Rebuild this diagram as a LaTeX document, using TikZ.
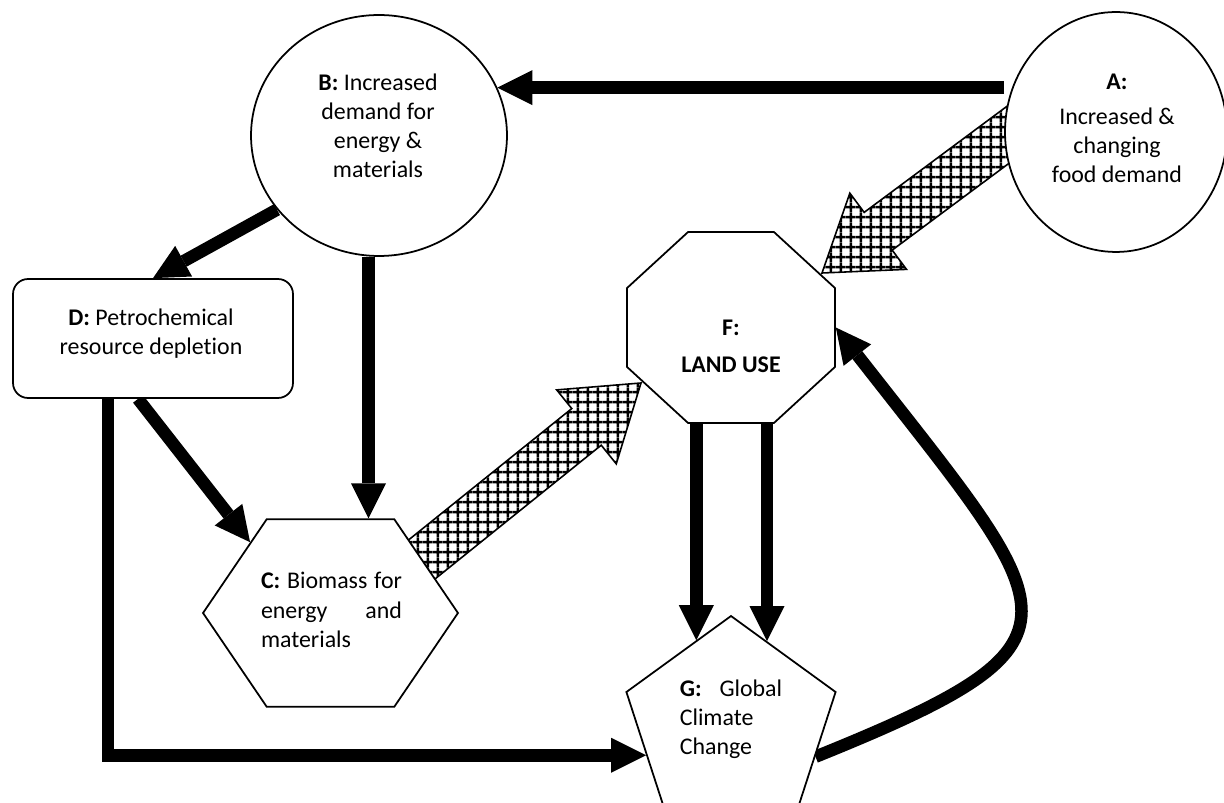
\documentclass[tikz,border=0pt]{standalone}
\usepackage{fontspec}
\setmainfont{Carlito}[Ligatures={NoCommon}]
\usetikzlibrary{shapes.geometric,arrows.meta,calc,patterns,backgrounds}

\pgfdeclarepatternformonly{mygrid}{\pgfqpoint{0pt}{0pt}}{\pgfqpoint{5.6pt}{5.6pt}}{\pgfqpoint{5.6pt}{5.6pt}}{%
  \pgfsetlinewidth{1.4pt}%
  \pgfpathmoveto{\pgfqpoint{0pt}{2.8pt}}\pgfpathlineto{\pgfqpoint{5.6pt}{2.8pt}}%
  \pgfpathmoveto{\pgfqpoint{2.8pt}{0pt}}\pgfpathlineto{\pgfqpoint{2.8pt}{5.6pt}}%
  \pgfusepath{stroke}}

% wide hatched arrow from #1 to #2
\newcommand{\fatarrow}[2]{%
  \path ($(#2)!1.4cm!(#1)$) coordinate (hb);
  \draw[myfat] ($(#1)!0.47cm!90:(#2)$) -- ($(hb)!0.47cm!-90:(#1)$) -- ($(hb)!0.95cm!-90:(#1)$)
    -- (#2) -- ($(hb)!0.95cm!90:(#1)$) -- ($(hb)!0.47cm!90:(#1)$) -- ($(#1)!0.47cm!-90:(#2)$) -- cycle;}

\begin{document}
\begin{tikzpicture}[x=0.02cm, y=-0.02cm, font=\fontsize{13.6}{16.6}\selectfont]
    \tikzset{myell/.style={ellipse, draw, fill=white, line width=1pt, inner sep=0pt},
        mybox/.style={rectangle, rounded corners=0.3cm, draw, fill=white, line width=1pt,
            minimum width=5.6cm, minimum height=2.38cm},
        mypoly/.style={regular polygon, draw, fill=white, line width=1pt, inner sep=0pt},
        mytxt/.style={align=center, inner sep=0pt},
        myarr/.style={line width=0.25cm, -{Triangle[length=0.7cm, width=0.7cm, line width=0pt]}},
        myfat/.style={line width=0.9pt, pattern=mygrid, line join=miter}}
    \useasboundingbox (0,0) rectangle (1224,803);

    \node[myell, minimum width=4.44cm, minimum height=4.8cm] (A) at (1116,132) {};
    \node[myell, minimum width=5.12cm, minimum height=4.82cm] (B) at (379,135.5) {};
    \node[mybox] (D) at (153,338.5) {};
    \node[mypoly, regular polygon sides=8, minimum size=4.5cm, yscale=0.918] (F) at (731,327.5) {};
    \node[mypoly, regular polygon sides=6, minimum size=5.1cm, yscale=0.85] (C) at (330.5,613) {};
    \node[mypoly, regular polygon sides=5, minimum size=4.4cm] (G) at (731,726) {};

    \node[mytxt] (Atxt) at (1117,128.5) {\textbf{A:}\\[3pt]Increased \&\\changing\\food demand};
    \node[mytxt] (Btxt) at (378,126) {\textbf{B:} Increased\\demand for\\energy \&\\materials};
    \node[mytxt] (Dtxt) at (151,334) {\textbf{D:} Petrochemical\\resource depletion};
    \node[mytxt] (Ftxt) at (731,346.5) {\textbf{F:}\\[4.5pt]\textbf{LAND USE}};
    \node[align=left, inner sep=0pt] (Ctxt) at (331.5,610)
        {\makebox[2.82cm][s]{\textbf{C:} Biomass for}\\\makebox[2.82cm][s]{energy and}\\materials};
    \node[align=left, inner sep=0pt] (Gtxt) at (731,719) {\textbf{G:}\hspace{0.75em}Global\\Climate\\Change};

    \begin{scope}[on background layer]
        \draw[myarr] (A.west |- B.22) -- (B.22);
        \draw[myarr] (B.216) -- (D.north);
        \draw[myarr] ([xshift=-0.21cm]B.south) -- ([xshift=-0.21cm]B.south |- C.90);
        \draw[myarr] ([xshift=-0.3cm]D.south) -- (C.134);
        \draw[myarr] ([xshift=-0.9cm]D.south) |- (G.199);
        \draw[myarr] (F.-90 -| G.112) -- (G.112);
        \draw[myarr] (F.-90 -| G.67) -- (G.67);
        \draw[myarr] (G.-20) .. controls +(22:6.2cm) and +(-52:7.4cm) .. (F.0);

        \coordinate (af1) at (1040,111);
        \coordinate (af2) at (822,273);
        \coordinate (cf1) at (400,577);
        \coordinate (cf2) at (641,383);
        \fatarrow{af1}{af2}
        \fatarrow{cf1}{cf2}
    \end{scope}
\end{tikzpicture}
\end{document}
